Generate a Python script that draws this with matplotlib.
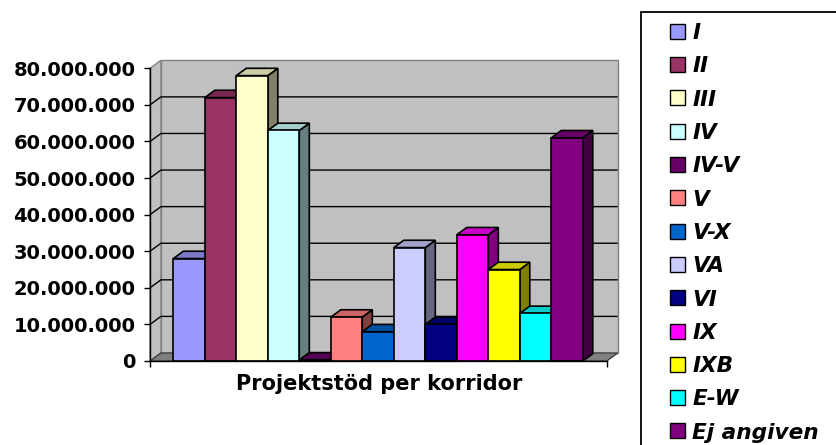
import matplotlib
matplotlib.use("Agg")
import matplotlib.pyplot as plt
from matplotlib.patches import Polygon, Rectangle
from matplotlib.colors import to_rgb

# ---------------- data ----------------
categories = ["I", "II", "III", "IV", "IV-V", "V", "V-X", "VA", "VI", "IX", "IXB", "E-W", "Ej angiven"]
values = [28.0e6, 72.0e6, 78.0e6, 63.0e6, 0.3e6, 12.0e6, 8.0e6, 31.0e6, 10.0e6, 34.5e6, 25.0e6, 13.0e6, 61.0e6]
colors = ["#9999FF", "#993366", "#FFFFCC", "#CCFFFF", "#660066", "#FF8080", "#0066CC",
          "#CCCCFF", "#000080", "#FF00FF", "#FFFF00", "#00FFFF", "#800080"]
y_ticks = [0, 10e6, 20e6, 30e6, 40e6, 50e6, 60e6, 70e6, 80e6]
y_tick_labels = ["0", "10.000.000", "20.000.000", "30.000.000", "40.000.000",
                 "50.000.000", "60.000.000", "70.000.000", "80.000.000"]
x_title = "Projektstöd per korridor"

# ---------------- layout ----------------
W, H = 837, 445
fig = plt.figure(figsize=(W / 100, H / 100), dpi=100)
fig.patch.set_facecolor("white")

ax_left, ax_right, ax_bottom, ax_top = 150, 606.7, 361, 68.3
ax = fig.add_axes([ax_left / W, (H - ax_bottom) / H, (ax_right - ax_left) / W, (ax_bottom - ax_top) / H])
x0, x1 = -1.24, len(categories) - 1 + 1.26
y0, y1 = 0, 80e6
ax.set_xlim(x0, x1)
ax.set_ylim(y0, y1)
ax.patch.set_visible(False)

# depth of the 3D effect, in data units
WDX, WDY = 0.349, 2.19e6   # walls
BDX, BDY = 0.318, 2.0e6    # bars

wall_col = "#C0C0C0"
wall_edge = "#808080"
# back wall
ax.add_patch(Polygon([(x0 + WDX, y0 + WDY), (x1 + WDX, y0 + WDY), (x1 + WDX, y1 + WDY), (x0 + WDX, y1 + WDY)],
                     closed=True, fc=wall_col, ec=wall_edge, lw=1.0, clip_on=False, zorder=0.5))
# left wall
ax.add_patch(Polygon([(x0, y0), (x0 + WDX, y0 + WDY), (x0 + WDX, y1 + WDY), (x0, y1)],
                     closed=True, fc=wall_col, ec=wall_edge, lw=1.0, clip_on=False, zorder=0.6))
# floor
ax.add_patch(Polygon([(x0, y0), (x1, y0), (x1 + WDX, y0 + WDY), (x0 + WDX, y0 + WDY)],
                     closed=True, fc="#808080", ec="#404040", lw=1.0, clip_on=False, zorder=0.7))
# gridlines on walls
for v in y_ticks[1:-1]:
    ax.plot([x0, x0 + WDX, x1 + WDX], [v, v + WDY, v + WDY], color="black", lw=1.0,
            clip_on=False, zorder=1, solid_capstyle="butt")

# bars
def shade(c, f):
    return tuple(ch * f for ch in to_rgb(c))

for i, (v, c) in enumerate(zip(values, colors)):
    z = 3 + i * 0.1
    l, r = i - 0.5, i + 0.5
    ax.add_patch(Polygon([(r, 0), (r + BDX, BDY), (r + BDX, v + BDY), (r, v)], closed=True,
                         fc=shade(c, 0.5), ec="black", lw=1.2, clip_on=False, zorder=z))
    ax.add_patch(Polygon([(l, v), (r, v), (r + BDX, v + BDY), (l + BDX, v + BDY)], closed=True,
                         fc=shade(c, 0.8), ec="black", lw=1.2, clip_on=False, zorder=z))
    ax.bar(i, v, width=1.0, color=c, edgecolor="black", linewidth=1.2, zorder=z + 0.05)

# axes
for s in ["top", "right"]:
    ax.spines[s].set_visible(False)
for s in ["left", "bottom"]:
    ax.spines[s].set_color("black")
    ax.spines[s].set_linewidth(1.0)
    ax.spines[s].set_zorder(10)
ax.set_yticks(y_ticks, y_tick_labels)
ax.tick_params(axis="y", length=4.5, width=1.0, pad=6, labelsize=14, colors="black")
for lbl in ax.get_yticklabels():
    lbl.set_fontweight("bold")
ax.set_xticks([x0, x1], ["", ""])
ax.tick_params(axis="x", length=4.5, width=1.0, direction="out")

fig.text(379 / W, 1 - 389.5 / H, x_title, ha="center", va="baseline",
         fontsize=15, fontweight="bold")

# legend (manual)
def fx(px):
    return px / W

def fy(py):
    return 1 - py / H

fig.add_artist(Rectangle((fx(641), fy(470)), (900 - 641) / W, (470 - 11.7) / H,
                         transform=fig.transFigure, fc="white", ec="black", lw=1.3))
for i, (cat, c) in enumerate(zip(categories, colors)):
    cy = 31.3 + i * 33.3
    fig.add_artist(Rectangle((fx(670), fy(cy + 7.5)), 15 / W, 15 / H, transform=fig.transFigure,
                             fc=c, ec="black", lw=1.0))
    fig.text(fx(692.5), fy(cy + 7.8), cat, ha="left", va="baseline", fontsize=15.6,
             fontweight="bold", fontstyle="italic")

fig.savefig("out.png", dpi=100)
